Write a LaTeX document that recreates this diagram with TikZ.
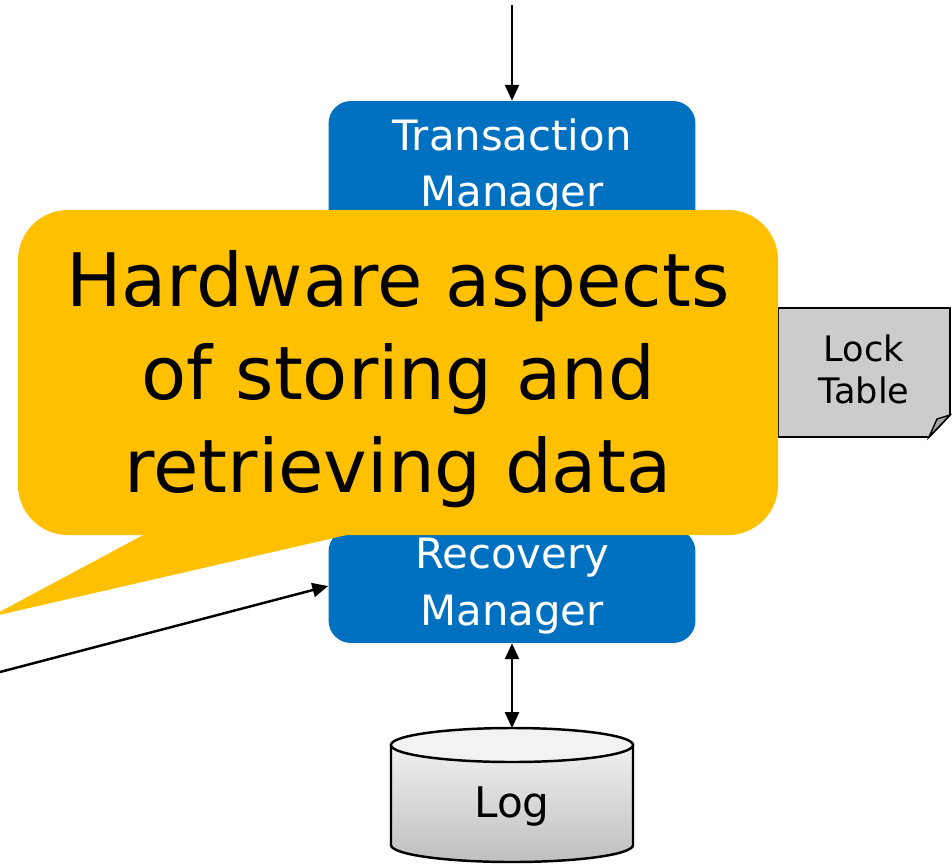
\documentclass[tikz,border=0pt]{standalone}
\usepackage{fontspec}
\setmainfont{DejaVu Sans}
\usetikzlibrary{arrows.meta}
\definecolor{mgrblue}{HTML}{0070C0}
\definecolor{noteorange}{HTML}{FFC000}
\definecolor{tablegray}{HTML}{CCCCCC}

\begin{document}
\begin{tikzpicture}[x=0.02cm,y=0.02cm,text centered,
  >={Triangle[length=9pt,width=8pt]},
  mgr/.style={fill=mgrblue,text=white,rounded corners=0.45cm,minimum width=7.34cm,
    align=center,font=\fontsize{23.8}{32}\selectfont},
  link/.style={line width=1.4pt}]

  \useasboundingbox (0,0) rectangle (952,867);

  % lock table
  \draw[fill=tablegray,line width=1.1pt] (778,559) -- (950,559) -- (950,452) -- (929,430) -- (778,430) -- cycle;
  \draw[fill=gray!70,line width=0.8pt] (950,452) -- (937,448) -- (929,430) -- cycle;
  \node (lock) at (864,498) [align=center,font=\fontsize{20}{24}\selectfont] {Lock\\Table};

  \node (tm) at (512,700) [mgr,minimum height=2.64cm] {Transaction\\Manager};
  \node (rm) at (512,281) [mgr,minimum height=2.28cm] {Recovery\\Manager};

  \coordinate (src) at (512,862);
  \coordinate (ext) at (0,195);
  \draw[link,->] (src) -- (tm);
  \draw[link,->] (ext) -- (rm.west);

  % log
  \shade[top color=gray!12,bottom color=gray!50,draw,line width=1.4pt]
    (391,122) -- (391,22) arc[start angle=180,end angle=360,x radius=121,y radius=17] -- (633,122) -- cycle;
  \draw[fill=gray!10,line width=1.4pt] (512,122) ellipse[x radius=121,y radius=17];
  \node (log) at (512,60) [font=\fontsize{24}{28}\selectfont] {Log};
  \coordinate (logtop) at (512,139);
  \draw[link,<->] (rm) -- (logtop);

  % callout
  \fill[noteorange] (-10,250) -- (162,342) -- (399,344) -- cycle;
  \fill[noteorange,rounded corners=1cm] (18,332) rectangle (778,657);
  \node (note) at (398,488) [align=center,font=\fontsize{42}{53}\selectfont] {Hardware aspects\\of storing and\\retrieving data};

\end{tikzpicture}
\end{document}
